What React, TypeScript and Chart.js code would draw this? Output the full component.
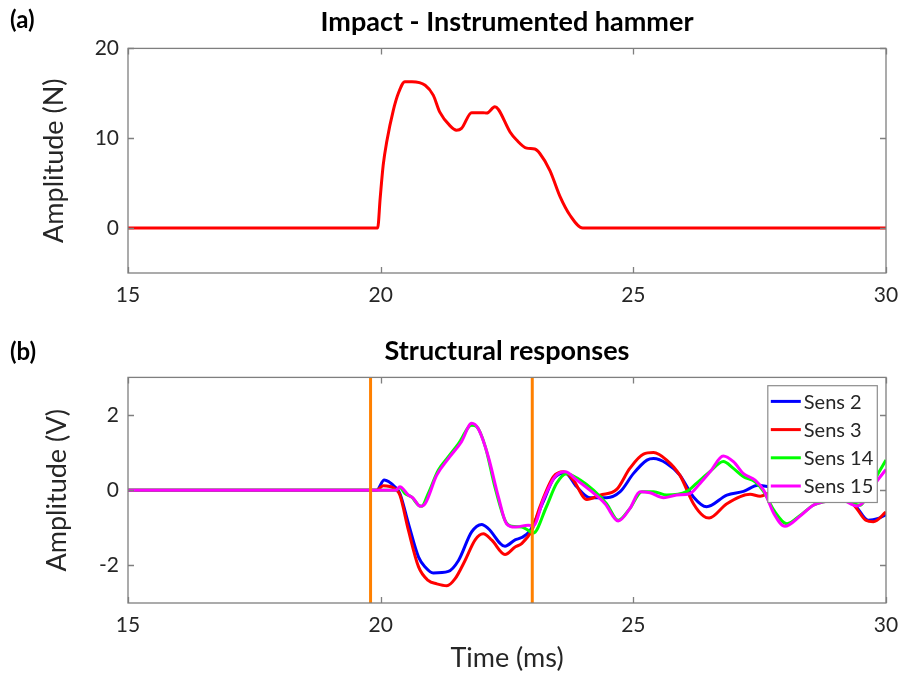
import React, { useEffect, useRef } from "react";
import { Chart, registerables } from "chart.js";

Chart.register(...registerables);

const FONT = "Lato, 'Open Sans', sans-serif";

// ---------- data ----------
const timeRange = [15, 30];
const xTicks = [15, 20, 25, 30];

// (a) instrumented hammer
const forceRange = [-5, 20];
const forceTicks = [0, 10, 20];
const hammerTime = [15, 19.94, 19.99, 20.05, 20.12, 20.25, 20.35, 20.48, 20.62, 20.88, 21.04, 21.17, 21.37, 21.5, 21.6, 21.8, 22.03, 22.1, 22.26, 22.33, 22.56, 22.69, 22.89, 23.05, 23.15, 23.35, 23.55, 23.75, 24.0, 30];
const hammerForce = [0, 0, 3.3, 7.0, 9.6, 13.1, 15.0, 16.3, 16.3, 15.9, 14.8, 12.9, 11.4, 10.9, 11.1, 12.85, 12.85, 12.8, 13.5, 13.2, 10.7, 9.8, 8.9, 8.8, 8.3, 6.4, 3.5, 1.4, 0, 0];

// (b) structural responses
const voltRange = [-3, 3];
const voltTicks = [-2, 0, 2];
const windowMarks = [19.8, 23.0];
const sensorNames = ["Sens 2", "Sens 3", "Sens 14", "Sens 15"];
const sensorColors = ["#0000ff", "#ff0000", "#00ff00", "#ff00ff"];

const sens2Time = [15, 19.92, 20.07, 20.28, 20.38, 20.55, 20.75, 20.88, 21.04, 21.34, 21.54, 21.8, 22.0, 22.13, 22.46, 22.66, 22.79, 22.96, 23.22, 23.42, 23.65, 23.88, 24.14, 24.47, 24.74, 25.0, 25.27, 25.4, 25.66, 25.92, 26.19, 26.45, 26.85, 27.18, 27.47, 27.7, 28.2, 28.8, 29.2, 29.42, 29.65, 29.85, 30];
const sens2 = [0, 0, 0.27, 0.09, -0.09, -0.89, -1.78, -2.04, -2.2, -2.16, -1.87, -1.11, -0.91, -1.02, -1.49, -1.32, -1.26, -1.07, -0.3, 0.3, 0.46, 0.09, -0.2, -0.2, -0.04, 0.44, 0.8, 0.84, 0.71, 0.4, -0.18, -0.44, -0.13, -0.03, 0.13, 0.09, 0.15, 0.12, -0.1, -0.45, -0.8, -0.75, -0.65];

const sens3Time = [15, 19.92, 20.05, 20.28, 20.38, 20.55, 20.75, 20.94, 21.11, 21.31, 21.47, 21.67, 21.87, 22.03, 22.2, 22.46, 22.66, 22.79, 22.99, 23.15, 23.42, 23.62, 23.81, 24.08, 24.34, 24.67, 24.93, 25.2, 25.4, 25.66, 25.92, 26.19, 26.39, 26.5, 26.85, 27.31, 27.51, 27.7, 28.2, 28.8, 29.2, 29.42, 29.6, 29.75, 30];
const sens3 = [0, 0, 0.12, 0.04, -0.13, -1.07, -2.04, -2.4, -2.49, -2.54, -2.36, -1.87, -1.32, -1.16, -1.33, -1.71, -1.51, -1.42, -1.07, -0.45, 0.36, 0.49, 0.27, -0.25, -0.13, 0.02, 0.58, 0.96, 1.0, 0.8, 0.4, -0.36, -0.69, -0.74, -0.36, -0.11, -0.16, -0.07, 0.02, 0.05, -0.15, -0.49, -0.8, -0.84, -0.58];

const sens14Time = [15, 20.3, 20.38, 20.48, 20.61, 20.75, 20.81, 20.94, 21.14, 21.34, 21.54, 21.8, 21.9, 22.07, 22.26, 22.46, 22.59, 22.79, 22.92, 23.02, 23.28, 23.48, 23.68, 23.95, 24.21, 24.47, 24.7, 24.93, 25.17, 25.4, 25.66, 26.05, 26.25, 26.52, 26.78, 26.98, 27.18, 27.41, 27.58, 27.78, 28.04, 28.3, 28.56, 28.77, 29.05, 29.35, 29.5, 29.65, 29.81, 30];
const sens14 = [0, 0, 0.07, -0.09, -0.18, -0.4, -0.43, -0.09, 0.53, 0.89, 1.24, 1.73, 1.69, 1.16, 0.09, -0.8, -0.96, -0.98, -1.07, -1.14, -0.44, 0.18, 0.44, 0.27, 0.0, -0.36, -0.8, -0.49, -0.04, -0.04, -0.13, -0.04, 0.18, 0.5, 0.76, 0.58, 0.36, 0.22, -0.04, -0.53, -0.89, -0.67, -0.4, -0.31, -0.22, -0.36, -0.4, -0.05, 0.36, 0.8];

const sens15Time = [15, 20.3, 20.38, 20.55, 20.65, 20.78, 20.88, 21.11, 21.34, 21.6, 21.8, 21.93, 22.13, 22.33, 22.49, 22.66, 22.92, 23.02, 23.22, 23.45, 23.65, 23.88, 24.14, 24.44, 24.7, 24.93, 25.13, 25.33, 25.6, 25.86, 26.12, 26.32, 26.52, 26.78, 26.98, 27.18, 27.41, 27.58, 27.78, 28.0, 28.3, 28.56, 28.8, 29.1, 29.42, 29.6, 29.8, 30];
const sens15 = [0, 0, 0.09, -0.13, -0.22, -0.43, -0.36, 0.4, 0.84, 1.29, 1.78, 1.64, 0.89, -0.18, -0.89, -0.98, -0.93, -0.95, -0.25, 0.36, 0.49, 0.27, 0.0, -0.36, -0.82, -0.49, -0.04, -0.07, -0.2, -0.13, -0.09, 0.18, 0.49, 0.91, 0.76, 0.44, 0.27, 0.0, -0.62, -0.96, -0.69, -0.4, -0.3, -0.25, -0.42, -0.25, 0.2, 0.55];

const sensorTimes = [sens2Time, sens3Time, sens14Time, sens15Time];
const sensorValues = [sens2, sens3, sens14, sens15];

const toPoints = (ts: number[], vs: number[]) => ts.map((t, i) => ({ x: t, y: vs[i] }));

// ---------- plugins ----------
const framePlugin = {
  id: "matlabFrame",
  afterDatasetsDraw(chart: any) {
    const { ctx, chartArea: a, scales } = chart;
    const L = 6;
    ctx.save();
    ctx.strokeStyle = "#7f7f7f";
    ctx.lineWidth = 1.3;
    ctx.beginPath();
    for (const t of scales.x.ticks) {
      const px = Math.round(scales.x.getPixelForValue(t.value)) + 0.5;
      ctx.moveTo(px, a.bottom);
      ctx.lineTo(px, a.bottom - L);
      ctx.moveTo(px, a.top);
      ctx.lineTo(px, a.top + L);
    }
    for (const t of scales.y.ticks) {
      const py = Math.round(scales.y.getPixelForValue(t.value)) + 0.5;
      ctx.moveTo(a.left, py);
      ctx.lineTo(a.left + L, py);
      ctx.moveTo(a.right, py);
      ctx.lineTo(a.right - L, py);
    }
    ctx.stroke();
    ctx.strokeRect(a.left, a.top, a.right - a.left, a.bottom - a.top);
    ctx.restore();
  },
};

const boxLegendPlugin = {
  id: "boxLegend",
  afterDatasetsDraw(chart: any, _args: any, opts: any) {
    if (!opts || !opts.show) return;
    const { ctx, chartArea: a } = chart;
    const items = chart.data.datasets.filter((d: any) => sensorNames.includes(d.label));
    ctx.save();
    ctx.font = `20px ${FONT}`;
    const textW = Math.max(...items.map((d: any) => ctx.measureText(d.label).width));
    const padL = 3, lineLen = 30, gap = 3, padR = 4, rowH = 28.2;
    const w = padL + lineLen + gap + textW + padR;
    const h = items.length * rowH + 4;
    const x0 = a.right - 8.7 - w;
    const y0 = a.top + 8.3;
    ctx.fillStyle = "#ffffff";
    ctx.fillRect(x0, y0, w, h);
    ctx.strokeStyle = "#8c8c8c";
    ctx.lineWidth = 1.2;
    ctx.strokeRect(x0, y0, w, h);
    items.forEach((d: any, i: number) => {
      const cy = y0 + 15.7 + i * rowH;
      ctx.strokeStyle = d.borderColor;
      ctx.lineWidth = 3;
      ctx.beginPath();
      ctx.moveTo(x0 + padL, cy);
      ctx.lineTo(x0 + padL + lineLen, cy);
      ctx.stroke();
      ctx.fillStyle = "#262626";
      ctx.textAlign = "left";
      ctx.textBaseline = "middle";
      ctx.fillText(d.label, x0 + padL + lineLen + gap, cy + 1);
    });
    ctx.restore();
  },
};

const panelLabelPlugin = {
  id: "panelLabel",
  afterDraw(chart: any, _args: any, opts: any) {
    if (!opts || !opts.text) return;
    const ctx = chart.ctx;
    ctx.save();
    ctx.font = `bold 24px ${FONT}`;
    ctx.fillStyle = "#000000";
    ctx.textAlign = "left";
    ctx.textBaseline = "middle";
    ctx.fillText(opts.text, 10, opts.y);
    ctx.restore();
  },
};

function xScale(height: number, title?: string) {
  return {
    type: "linear",
    min: timeRange[0],
    max: timeRange[1],
    afterBuildTicks: (s: any) => {
      s.ticks = xTicks.map((v) => ({ value: v }));
    },
    afterFit: (s: any) => {
      s.height = height;
      s.paddingLeft = 0;
      s.paddingRight = 0;
    },
    grid: { display: false, drawTicks: false },
    border: { display: false },
    ticks: { font: { family: FONT, size: 21 }, color: "#262626", padding: 10, autoSkip: false, maxRotation: 0 },
    title: title
      ? { display: true, text: title, font: { family: FONT, size: 27 }, color: "#262626", padding: { top: 0, bottom: 3 } }
      : { display: false },
  };
}

function yScale(range: number[], ticks: number[], title: string, titlePad: number) {
  return {
    type: "linear",
    min: range[0],
    max: range[1],
    afterBuildTicks: (s: any) => {
      s.ticks = ticks.map((v) => ({ value: v }));
    },
    afterFit: (s: any) => {
      s.width = 128;
      s.paddingTop = 0;
      s.paddingBottom = 0;
    },
    grid: { display: false, drawTicks: false },
    border: { display: false },
    ticks: { font: { family: FONT, size: 21 }, color: "#262626", padding: 9, autoSkip: false },
    title: { display: true, text: title, font: { family: FONT, size: 27 }, color: "#262626", padding: { top: titlePad, bottom: 0 } },
  };
}

function titleOpts(text: string, top: number, bottom: number) {
  return {
    display: true,
    text,
    fullSize: false,
    color: "#000000",
    font: { family: FONT, size: 27, weight: "bold" },
    padding: { top, bottom },
  };
}

export default function App() {
  const refA = useRef<HTMLCanvasElement>(null);
  const refB = useRef<HTMLCanvasElement>(null);

  useEffect(() => {
    const chartA = new Chart(refA.current as HTMLCanvasElement, {
      type: "line",
      data: {
        datasets: [
          {
            label: "Force",
            data: toPoints(hammerTime, hammerForce),
            borderColor: "#ff0000",
            borderWidth: 3,
            pointRadius: 0,
            fill: false,
            cubicInterpolationMode: "monotone",
          },
        ],
      },
      options: {
        responsive: false,
        animation: false,
        events: [],
        layout: { padding: { left: 0, right: 15, top: 0, bottom: 0 } },
        plugins: {
          legend: { display: false },
          tooltip: { enabled: false },
          title: titleOpts("Impact - Instrumented hammer", 6, 10),
          panelLabel: { text: "(a)", y: 20 },
          boxLegend: { show: false },
        },
        scales: {
          x: xScale(42),
          y: yScale(forceRange, forceTicks, "Amplitude (N)", 38),
        },
      } as any,
      plugins: [framePlugin, boxLegendPlugin, panelLabelPlugin],
    });

    const sensorSets = sensorNames.map((name, i) => ({
      label: name,
      data: toPoints(sensorTimes[i], sensorValues[i]),
      borderColor: sensorColors[i],
      borderWidth: 3,
      pointRadius: 0,
      fill: false,
      cubicInterpolationMode: "monotone",
      order: sensorNames.length - i,
    }));
    const markSets = windowMarks.map((t) => ({
      label: "",
      data: [
        { x: t, y: voltRange[0] },
        { x: t, y: voltRange[1] },
      ],
      borderColor: "#ff8000",
      borderWidth: 3,
      pointRadius: 0,
      fill: false,
      tension: 0,
      order: -1,
    }));

    const chartB = new Chart(refB.current as HTMLCanvasElement, {
      type: "line",
      data: { datasets: [...sensorSets, ...markSets] as any },
      options: {
        responsive: false,
        animation: false,
        events: [],
        layout: { padding: { left: 0, right: 15, top: 0, bottom: 0 } },
        plugins: {
          legend: { display: false },
          tooltip: { enabled: false },
          title: titleOpts("Structural responses", 20, 10),
          panelLabel: { text: "(b)", y: 37 },
          boxLegend: { show: true },
        },
        scales: {
          x: xScale(74, "Time (ms)"),
          y: yScale(voltRange, voltTicks, "Amplitude (V)", 41),
        },
      } as any,
      plugins: [framePlugin, boxLegendPlugin, panelLabelPlugin],
    });

    return () => {
      chartA.destroy();
      chartB.destroy();
    };
  }, []);

  return (
    <div style={{ position: "absolute", left: 0, top: 0, width: 901, height: 677, background: "#ffffff" }}>
      <canvas ref={refA} width={901} height={315} style={{ position: "absolute", left: 0, top: 0, width: 901, height: 315 }} />
      <canvas ref={refB} width={901} height={362} style={{ position: "absolute", left: 0, top: 315, width: 901, height: 362 }} />
    </div>
  );
}
